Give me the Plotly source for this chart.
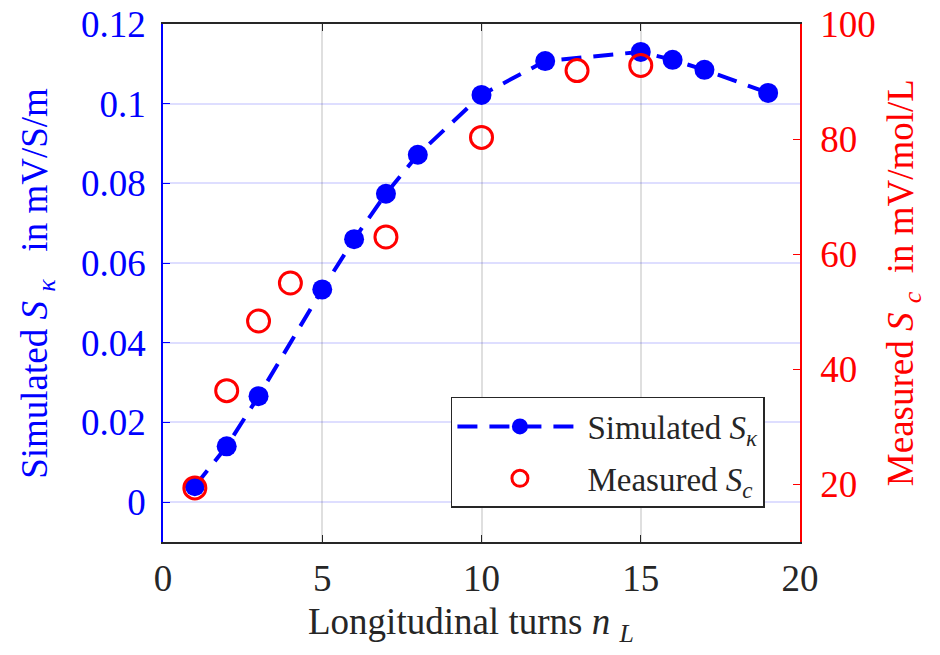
import plotly.graph_objects as go

sim_x = [1, 2, 3, 5, 6, 7, 8, 10, 12, 15, 16, 17, 19]
sim_y = [0.004, 0.014, 0.0266, 0.0534, 0.066, 0.0774, 0.0872, 0.1022, 0.1107, 0.113, 0.111, 0.1085, 0.1027]
meas_x = [1, 2, 3, 4, 7, 10, 13, 15]
meas_y = [19.4, 36.3, 48.4, 55.0, 63.0, 80.3, 91.9, 92.8]

x_ticks = [0, 5, 10, 15, 20]
y_ticks = [0, 0.02, 0.04, 0.06, 0.08, 0.1, 0.12]
y_tick_text = ["0", "0.02", "0.04", "0.06", "0.08", "0.1", "0.12"]
y2_ticks = [20, 40, 60, 80, 100]

FONT = "Liberation Serif"
FS = 37
DARK = "#262626"
BLUE = "#0000ff"
RED = "#ff0000"
NB = "\u00a0"

fig = go.Figure()
fig.add_trace(go.Scatter(
    x=sim_x, y=sim_y, mode="lines+markers",
    name="Simulated <i>S</i><sub><i>κ</i></sub>",
    legendgroup="sim",
    line=dict(color=BLUE, width=4, dash="20px,12px"),
    marker=dict(color=BLUE, size=20),
    yaxis="y",
))
fig.add_trace(go.Scatter(
    x=meas_x, y=meas_y, mode="markers",
    name="Measured <i>S</i><sub><i>c</i></sub>",
    legendgroup="meas",
    marker=dict(color=RED, size=22, symbol="circle-open",
                line=dict(color=RED, width=3)),
    yaxis="y2",
))

fig.update_layout(
    width=940, height=655,
    margin=dict(l=163, r=140, t=24, b=113),
    plot_bgcolor="white", paper_bgcolor="white",
    font=dict(family=FONT, size=FS, color=DARK),
    xaxis=dict(
        range=[0, 20], tickvals=x_ticks, ticks="inside", ticklen=7,
        tickcolor=DARK, showline=True, linecolor=DARK, linewidth=1.5,
        mirror="ticks", showgrid=True, gridcolor="rgba(150,150,150,0.3)", gridwidth=1.5,
        zeroline=False, ticklabelstandoff=3, automargin=False, ticklabeloverflow="allow",
        tickfont=dict(family=FONT, size=FS, color=DARK),
    ),
    yaxis=dict(
        range=[-0.01, 0.12], tickvals=y_ticks, ticktext=y_tick_text, ticks="inside", ticklen=7,
        tickcolor=BLUE, showline=True, linecolor=BLUE, linewidth=1.5,
        showgrid=True, gridcolor="rgba(0,0,255,0.13)", gridwidth=1.5, zeroline=False,
        tickfont=dict(family=FONT, size=FS, color=BLUE), ticklabelstandoff=8,
        automargin=False, ticklabeloverflow="allow",
    ),
    yaxis2=dict(
        range=[10, 100], tickvals=y2_ticks, ticks="inside", ticklen=7,
        tickcolor=RED, showline=True, linecolor=RED, linewidth=1.5,
        overlaying="y", side="right", showgrid=False, zeroline=False,
        tickfont=dict(family=FONT, size=FS, color=RED), ticklabelstandoff=11,
        automargin=False, ticklabeloverflow="allow",
    ),
    legend=dict(
        x=0.452, y=0.28, xanchor="left", yanchor="top",
        bgcolor="white", bordercolor=DARK, borderwidth=1.5,
        font=dict(family=FONT, size=33, color=DARK),
        itemwidth=125, traceorder="grouped", tracegroupgap=6,
    ),
    showlegend=True,
    annotations=[
        dict(text="Longitudinal turns <i>n</i>" + NB + "<sub><i>L</i></sub>", xref="paper", yref="paper",
             x=0.4835, y=-0.16, xanchor="center", yanchor="middle", showarrow=False,
             font=dict(family=FONT, size=FS, color=DARK)),
        dict(text="Simulated <i>S</i>" + NB + "<sub><i>κ</i></sub>" + NB * 3 + "in mV/S/m",
             xref="paper", yref="paper",
             x=-0.198, y=0.5, xanchor="center", yanchor="middle", textangle=-90, showarrow=False,
             font=dict(family=FONT, size=FS, color=BLUE)),
        dict(text="Measured <i>S</i>" + NB + "<sub><i>c</i></sub>" + NB * 2 + "in mV/mol/L",
             xref="paper", yref="paper",
             x=1.162, y=0.5, xanchor="center", yanchor="middle", textangle=-90, showarrow=False,
             font=dict(family=FONT, size=FS, color=RED)),
    ],
)

fig.write_html("out.html", config={"displayModeBar": False},
               post_script="document.body.style.margin='0px';")
